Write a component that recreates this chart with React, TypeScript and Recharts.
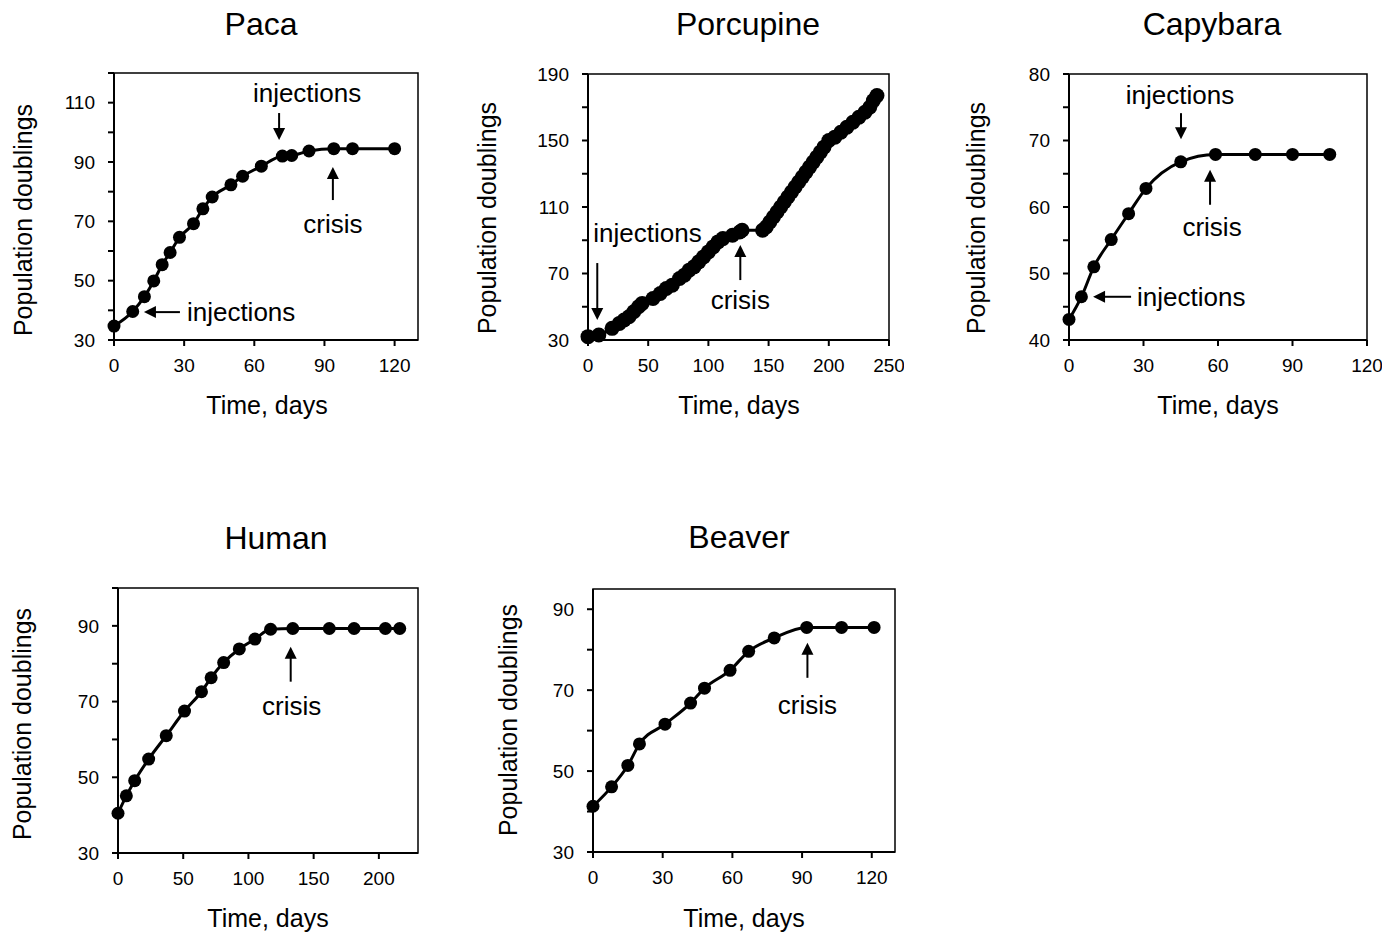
import React from "react";
import { LineChart, Line, XAxis, YAxis, ReferenceArea, ReferenceDot } from "recharts";

const FONT = "'Liberation Sans', Arial, Helvetica, sans-serif";

// ---- data (days, population doublings) ----
const pacaDays = [0, 8, 13, 17, 20.6, 24, 28, 34, 38, 42, 50, 55, 63, 72, 76, 83.4, 94, 102, 120];
const pacaPD = [34.7, 39.6, 44.6, 49.9, 55.4, 59.5, 64.6, 69.2, 74.2, 78.2, 82.3, 85.2, 88.6, 92.0, 92.2, 93.7, 94.5, 94.5, 94.5];

const porcDays = [0, 9, 20, 26, 30, 34, 38, 42, 45, 54, 60, 65, 70, 76, 80, 84, 88, 92, 96, 100, 104, 108, 112, 120, 126, 128, 145, 148, 151, 154, 157, 160, 163, 166, 169, 172, 175, 178, 181, 184, 187, 190, 193, 196, 200, 205, 210, 215, 220, 225, 230, 234, 237, 240];
const porcPD = [32, 33, 37, 40, 42, 44, 47, 50, 52, 55, 58, 61, 63, 67, 69, 72, 74, 77, 80, 83, 86, 89, 91, 93, 95, 96, 96, 98, 101, 104, 107, 110, 113, 116, 119, 122, 125, 128, 131, 134, 137, 140, 143, 146, 150, 152, 155, 158, 161, 164, 167, 170, 174, 177];

const capyDays = [0, 5, 10, 17, 24, 31, 45, 59, 75, 90, 105];
const capyPD = [43.1, 46.5, 51.0, 55.1, 59.0, 62.8, 66.8, 67.9, 67.9, 67.9, 67.9];

const humanDays = [0, 6.4, 12.8, 23.5, 37, 51, 64, 71.4, 81, 93, 105, 117, 134, 162, 181, 205, 216];
const humanPD = [40.5, 45.1, 49.1, 54.8, 61.0, 67.5, 72.6, 76.3, 80.3, 83.9, 86.5, 89.1, 89.3, 89.3, 89.3, 89.3, 89.3];

const beaverDays = [0, 8, 15, 20, 31, 42, 48, 59, 67, 78, 92, 107, 121];
const beaverPD = [41.3, 46.1, 51.4, 56.7, 61.6, 66.8, 70.5, 74.9, 79.6, 82.9, 85.5, 85.5, 85.5];

// ---- axis ticks ----
const pacaX = [0, 30, 60, 90, 120];
const pacaY = [30, 40, 50, 60, 70, 80, 90, 100, 110, 120];
const pacaYLab = [30, 50, 70, 90, 110];

const porcX = [0, 50, 100, 150, 200, 250];
const porcY = [30, 50, 70, 90, 110, 130, 150, 170, 190];
const porcYLab = [30, 70, 110, 150, 190];

const capyX = [0, 30, 60, 90, 120];
const capyY = [40, 45, 50, 55, 60, 65, 70, 75, 80];
const capyYLab = [40, 50, 60, 70, 80];

const humanX = [0, 50, 100, 150, 200];
const humanY = [30, 40, 50, 60, 70, 80, 90, 100];
const humanYLab = [30, 50, 70, 90];

const beaverX = [0, 30, 60, 90, 120];
const beaverY = [30, 40, 50, 60, 70, 80, 90];
const beaverYLab = [30, 50, 70, 90];

const zip = (d: number[], v: number[]) => d.map((day, i) => ({ day, pd: v[i] }));

type Note = {
  x: number;
  y: number;
  dir: "down" | "up" | "left";
  len: number;
  text: string;
  tdx: number;
  tdy: number;
  anchor: "start" | "middle";
};

const ML = 70;
const MB = 45;
const MT = 10;
const MR = 15;

const ArrowNote = (props: any) => {
  const { cx, cy, note } = props;
  const n: Note = note;
  const h = 12;
  const w = 6;
  let shaft;
  let head;
  if (n.dir === "down") {
    shaft = <line x1={cx} y1={cy - n.len} x2={cx} y2={cy - h + 1} stroke="#000" strokeWidth={2} />;
    head = `${cx - w},${cy - h} ${cx + w},${cy - h} ${cx},${cy}`;
  } else if (n.dir === "up") {
    shaft = <line x1={cx} y1={cy + n.len} x2={cx} y2={cy + h - 1} stroke="#000" strokeWidth={2} />;
    head = `${cx - w},${cy + h} ${cx + w},${cy + h} ${cx},${cy}`;
  } else {
    shaft = <line x1={cx + n.len} y1={cy} x2={cx + h - 1} y2={cy} stroke="#000" strokeWidth={2} />;
    head = `${cx + h},${cy - w} ${cx + h},${cy + w} ${cx},${cy}`;
  }
  return (
    <g>
      {shaft}
      <polygon points={head} fill="#000" />
      <text
        x={cx + n.tdx}
        y={cy + n.tdy}
        dy="0.35em"
        textAnchor={n.anchor}
        fontSize={26}
        fontFamily={FONT}
        fill="#000"
      >
        {n.text}
      </text>
    </g>
  );
};

type PanelProps = {
  title: string;
  titleC: [number, number];
  xLabC: [number, number];
  yLabC: [number, number];
  rect: [number, number, number, number];
  data: { day: number; pd: number }[];
  xDom: [number, number];
  yDom: [number, number];
  xTicks: number[];
  yTicks: number[];
  yLabels: number[];
  notes: Note[];
  dotR?: number;
};

const Panel = (p: PanelProps) => {
  const [x0, y0, x1, y1] = p.rect;
  const width = x1 - x0 + ML + MR;
  const height = y1 - y0 + MT + MB;
  const textStyle: React.CSSProperties = {
    position: "absolute",
    fontFamily: FONT,
    color: "#000",
    whiteSpace: "nowrap",
    lineHeight: 1,
  };
  return (
    <>
      <div style={{ ...textStyle, left: p.titleC[0], top: p.titleC[1], fontSize: 32, transform: "translate(-50%, -50%)" }}>
        {p.title}
      </div>
      <div style={{ ...textStyle, left: p.xLabC[0], top: p.xLabC[1], fontSize: 25, transform: "translate(-50%, -50%)" }}>
        Time, days
      </div>
      <div
        style={{
          ...textStyle,
          left: p.yLabC[0],
          top: p.yLabC[1],
          fontSize: 25,
          transform: "translate(-50%, -50%) rotate(-90deg)",
        }}
      >
        Population doublings
      </div>
      <div style={{ position: "absolute", left: x0 - ML, top: y0 - MT }}>
        <LineChart width={width} height={height} data={p.data} margin={{ top: MT, right: MR, left: 0, bottom: 0 }}>
          <XAxis
            type="number"
            dataKey="day"
            domain={p.xDom}
            ticks={p.xTicks}
            interval={0}
            height={MB}
            axisLine={{ stroke: "#000", strokeWidth: 2 }}
            tickLine={{ stroke: "#000", strokeWidth: 2 }}
            tickSize={6}
            tickMargin={13}
            tick={(t: any) => (
              <text x={t.x} y={t.y} dy="0.71em" textAnchor="middle" fontSize={19} fontFamily={FONT} fill="#000">
                {t.payload.value}
              </text>
            )}
          />
          <YAxis
            type="number"
            domain={p.yDom}
            ticks={p.yTicks}
            interval={0}
            width={ML}
            axisLine={{ stroke: "#000", strokeWidth: 2 }}
            tickLine={{ stroke: "#000", strokeWidth: 2 }}
            tickSize={6}
            tickMargin={13}
            tick={(t: any) => (
              <text x={t.x} y={t.y} dy="0.35em" textAnchor="end" fontSize={19} fontFamily={FONT} fill="#000">
                {p.yLabels.includes(t.payload.value) ? t.payload.value : ""}
              </text>
            )}
          />
          <ReferenceArea
            x1={p.xDom[0]}
            x2={p.xDom[1]}
            y1={p.yDom[0]}
            y2={p.yDom[1]}
            fill="none"
            fillOpacity={0}
            stroke="#000"
            strokeWidth={1.5}
            ifOverflow="visible"
          />
          <Line
            type="monotone"
            dataKey="pd"
            stroke="#000"
            strokeWidth={3}
            dot={{ r: p.dotR ?? 6.5, fill: "#000", stroke: "#000", strokeWidth: 0 }}
            isAnimationActive={false}
          />
          {p.notes.map((n, i) => (
            <ReferenceDot
              key={i}
              x={n.x}
              y={n.y}
              r={0}
              ifOverflow="visible"
              shape={(sp: any) => <ArrowNote cx={sp.cx} cy={sp.cy} note={n} />}
            />
          ))}
        </LineChart>
      </div>
    </>
  );
};

const pacaNotes: Note[] = [
  { x: 70.6, y: 97.4, dir: "down", len: 27, text: "injections", tdx: 28, tdy: -47, anchor: "middle" },
  { x: 93.6, y: 88.3, dir: "up", len: 33, text: "crisis", tdx: 0, tdy: 57, anchor: "middle" },
  { x: 12.8, y: 39.4, dir: "left", len: 36, text: "injections", tdx: 43, tdy: 0, anchor: "start" },
];
const porcNotes: Note[] = [
  { x: 7.7, y: 42, dir: "down", len: 57, text: "injections", tdx: -4, tdy: -87, anchor: "start" },
  { x: 126.5, y: 87.1, dir: "up", len: 35, text: "crisis", tdx: 0, tdy: 55, anchor: "middle" },
];
const capyNotes: Note[] = [
  { x: 45.1, y: 70.2, dir: "down", len: 26, text: "injections", tdx: -1, tdy: -44, anchor: "middle" },
  { x: 56.8, y: 65.6, dir: "up", len: 35, text: "crisis", tdx: 2, tdy: 57, anchor: "middle" },
  { x: 9.7, y: 46.5, dir: "left", len: 38, text: "injections", tdx: 44, tdy: 0, anchor: "start" },
];
const humanNotes: Note[] = [
  { x: 132.4, y: 84.5, dir: "up", len: 35, text: "crisis", tdx: 1, tdy: 59, anchor: "middle" },
];
const beaverNotes: Note[] = [
  { x: 92.3, y: 81.7, dir: "up", len: 35, text: "crisis", tdx: 0, tdy: 62, anchor: "middle" },
];

export default function App() {
  return (
    <div style={{ position: "absolute", left: 0, top: 0, width: 1400, height: 938, background: "#fff" }}>
      <Panel
        title="Paca"
        titleC={[261, 24]}
        xLabC={[267, 405]}
        yLabC={[23, 220]}
        rect={[114, 73, 418, 340]}
        data={zip(pacaDays, pacaPD)}
        xDom={[0, 130]}
        yDom={[30, 120]}
        xTicks={pacaX}
        yTicks={pacaY}
        yLabels={pacaYLab}
        notes={pacaNotes}
      />
      <Panel
        title="Porcupine"
        titleC={[748, 24]}
        xLabC={[739, 405]}
        yLabC={[487, 218]}
        rect={[588, 74, 889, 340]}
        data={zip(porcDays, porcPD)}
        xDom={[0, 250]}
        yDom={[30, 190]}
        xTicks={porcX}
        yTicks={porcY}
        yLabels={porcYLab}
        notes={porcNotes}
        dotR={7.5}
      />
      <Panel
        title="Capybara"
        titleC={[1212, 24]}
        xLabC={[1218, 405]}
        yLabC={[976, 218]}
        rect={[1069, 74, 1367, 340]}
        data={zip(capyDays, capyPD)}
        xDom={[0, 120]}
        yDom={[40, 80]}
        xTicks={capyX}
        yTicks={capyY}
        yLabels={capyYLab}
        notes={capyNotes}
      />
      <Panel
        title="Human"
        titleC={[276, 538]}
        xLabC={[268, 918]}
        yLabC={[22, 724]}
        rect={[118, 588, 418, 853]}
        data={zip(humanDays, humanPD)}
        xDom={[0, 230]}
        yDom={[30, 100]}
        xTicks={humanX}
        yTicks={humanY}
        yLabels={humanYLab}
        notes={humanNotes}
      />
      <Panel
        title="Beaver"
        titleC={[739, 537]}
        xLabC={[744, 918]}
        yLabC={[508, 720]}
        rect={[593, 589, 895, 852]}
        data={zip(beaverDays, beaverPD)}
        xDom={[0, 130]}
        yDom={[30, 95]}
        xTicks={beaverX}
        yTicks={beaverY}
        yLabels={beaverYLab}
        notes={beaverNotes}
      />
    </div>
  );
}
